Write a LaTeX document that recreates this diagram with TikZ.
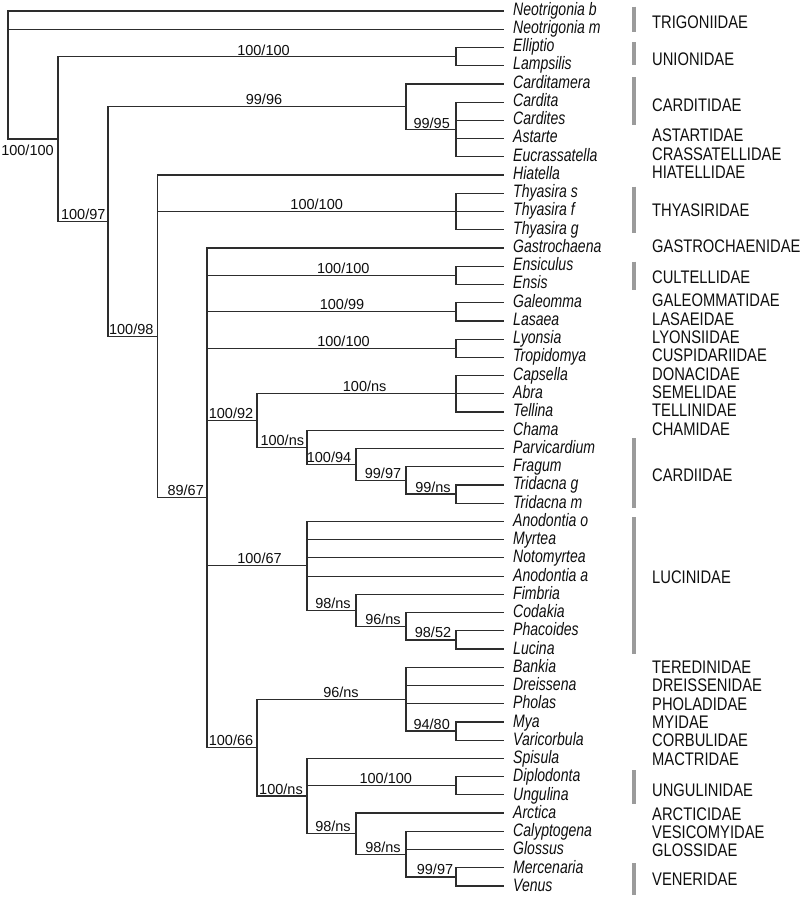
\documentclass[tikz,border=0pt]{standalone}
\usepackage{fontspec}
\setmainfont{Liberation Sans}
\newfontfamily\leaffont[FakeStretch=0.78]{Liberation Sans}
\newfontfamily\famfont[FakeStretch=0.81]{Liberation Sans}
\definecolor{bargray}{RGB}{155,155,155}
\definecolor{linegray}{RGB}{45,45,45}
\definecolor{txt}{RGB}{15,15,15}
\tikzset{
  br/.style={draw=linegray, line width=1.2pt, line cap=rect},
  leaf/.style={anchor=base west, inner sep=0pt, text=txt, font=\leaffont\itshape\fontsize{18}{18}\selectfont},
  fam/.style={anchor=base west, inner sep=0pt, text=txt, font=\famfont\fontsize{18.2}{18.2}\selectfont},
  lab/.style={anchor=base, inner sep=0pt, text=txt, font=\fontsize{14.5}{14.5}\selectfont},
  famBar/.style={draw=bargray, line width=4pt}
}
\begin{document}
\begin{tikzpicture}[x=1pt,y=-1pt]
\fill[white] (0,0) rectangle (804,898);
\useasboundingbox (0,0) rectangle (804,898);
% leaves
\foreach \t [count=\i from 0] in {Neotrigonia b, Neotrigonia m, Elliptio, Lampsilis, Carditamera, Cardita, Cardites, Astarte, Eucrassatella, Hiatella, Thyasira s, Thyasira f, Thyasira g, Gastrochaena, Ensiculus, Ensis, Galeomma, Lasaea, Lyonsia, Tropidomya, Capsella, Abra, Tellina, Chama, Parvicardium, Fragum, Tridacna g, Tridacna m, Anodontia o, Myrtea, Notomyrtea, Anodontia a, Fimbria, Codakia, Phacoides, Lucina, Bankia, Dreissena, Pholas, Mya, Varicorbula, Spisula, Diplodonta, Ungulina, Arctica, Calyptogena, Glossus, Mercenaria, Venus}{
  \pgfmathsetmacro\yy{11+\i*18.22917}
  \pgfmathsetmacro\yb{\yy+4+1.5*\yy/886}
  \coordinate (l\i) at (503,\yy);
  \node[leaf] (t\i) at (513,\yb) {\t};
}
% internal nodes
\coordinate (root) at (8,75.04);
\coordinate (nA) at (58,139.07);
\coordinate (nUnion) at (456,56.57);
\coordinate (nB) at (108,221.57);
\coordinate (nCardit) at (406,106.71);
\coordinate (nD) at (456,129.49);
\coordinate (nC) at (157.5,336.42);
\coordinate (nThy) at (456,211.52);
\coordinate (nE) at (207,497.78);
\coordinate (nCult) at (456,275.33);
\coordinate (nGal) at (456,311.79);
\coordinate (nLyon) at (456,348.24);
\coordinate (nF) at (257,420.59);
\coordinate (nCaps) at (456,393.81);
\coordinate (nH) at (307,447.36);
\coordinate (nI) at (356,464.45);
\coordinate (nJ) at (406,480.40);
\coordinate (nK) at (456,494.08);
\coordinate (nLuc) at (307,565.85);
\coordinate (nL) at (356,610.28);
\coordinate (nM) at (406,626.23);
\coordinate (nN) at (456,639.90);
\coordinate (nG) at (257,747.57);
\coordinate (nO) at (406,699.15);
\coordinate (nQ) at (456,731.05);
\coordinate (nP) at (307,795.99);
\coordinate (nUng) at (456,785.74);
\coordinate (nR) at (356,833.59);
\coordinate (nS) at (406,854.10);
\coordinate (nVen) at (456,876.89);
% branches
\foreach \p/\c in {root/l0, root/l1, root/nA,
  nA/nUnion, nA/nB, nUnion/l2, nUnion/l3,
  nB/nCardit, nB/nC, nCardit/l4, nCardit/nD,
  nD/l5, nD/l6, nD/l7, nD/l8,
  nC/l9, nC/nThy, nC/nE, nThy/l10, nThy/l11, nThy/l12,
  nE/l13, nE/nCult, nE/nGal, nE/nLyon, nE/nF, nE/nLuc, nE/nG,
  nCult/l14, nCult/l15, nGal/l16, nGal/l17, nLyon/l18, nLyon/l19,
  nF/nCaps, nF/nH, nCaps/l20, nCaps/l21, nCaps/l22,
  nH/l23, nH/nI, nI/l24, nI/nJ, nJ/l25, nJ/nK, nK/l26, nK/l27,
  nLuc/l28, nLuc/l29, nLuc/l30, nLuc/l31, nLuc/nL,
  nL/l32, nL/nM, nM/l33, nM/nN, nN/l34, nN/l35,
  nG/nO, nG/nP, nO/l36, nO/l37, nO/l38, nO/nQ, nQ/l39, nQ/l40,
  nP/l41, nP/nUng, nP/nR, nUng/l42, nUng/l43,
  nR/l44, nR/nS, nS/l45, nS/l46, nS/nVen, nVen/l47, nVen/l48}
  \draw[br] (\p) |- (\c);
% support labels
\node[lab] (bA) at (27.5,155) {100/100};
\node[lab] (bUnion) at (263.5,55) {100/100};
\node[lab] (bCardit) at (264,104.7) {99/96};
\node[lab] (bB) at (83.3,219.6) {100/97};
\node[lab] (bD) at (431.7,128) {99/95};
\node[lab] (bC) at (131.3,334.9) {100/98};
\node[lab] (bThy) at (316.7,209.5) {100/100};
\node[lab] (bE) at (185.7,495.8) {89/67};
\node[lab] (bCult) at (343.3,273.3) {100/100};
\node[lab] (bGal) at (342,309.8) {100/99};
\node[lab] (bLyon) at (343.5,346.2) {100/100};
\node[lab] (bF) at (231,418.6) {100/92};
\node[lab] (bCaps) at (364.7,391.8) {100/ns};
\node[lab] (bH) at (282.3,445.4) {100/ns};
\node[lab] (bI) at (329,462.4) {100/94};
\node[lab] (bJ) at (383,478.4) {99/97};
\node[lab] (bK) at (433,492.1) {99/ns};
\node[lab] (bLuc) at (259.5,563.8) {100/67};
\node[lab] (bL) at (333,608.3) {98/ns};
\node[lab] (bM) at (383,624.2) {96/ns};
\node[lab] (bN) at (433,637.9) {98/52};
\node[lab] (bG) at (231,745.6) {100/66};
\node[lab] (bO) at (341,697.2) {96/ns};
\node[lab] (bQ) at (431.7,729.1) {94/80};
\node[lab] (bP) at (281,794) {100/ns};
\node[lab] (bUng) at (385.8,783.7) {100/100};
\node[lab] (bR) at (333,831.6) {98/ns};
\node[lab] (bS) at (383,852.1) {98/ns};
\node[lab] (bVen) at (435,874.9) {99/97};
% family bars
\draw[famBar] (633.7,6.7) -- (633.7,32.3);
\draw[famBar] (633.7,42.3) -- (633.7,65);
\draw[famBar] (633.7,77.3) -- (633.7,125);
\draw[famBar] (633.7,186.7) -- (633.7,233.3);
\draw[famBar] (633.7,261.7) -- (633.7,290);
\draw[famBar] (633.7,438.3) -- (633.7,508.3);
\draw[famBar] (633.7,517.3) -- (633.7,654);
\draw[famBar] (633.7,770) -- (633.7,804);
\draw[famBar] (633.7,863.3) -- (633.7,895);
% family names
\node[fam] (f1) at (652,28.3) {TRIGONIIDAE};
\node[fam] (f2) at (652,65) {UNIONIDAE};
\node[fam] (f3) at (652,111.7) {CARDITIDAE};
\node[fam] (f4) at (652,141.7) {ASTARTIDAE};
\node[fam] (f5) at (652,160) {CRASSATELLIDAE};
\node[fam] (f6) at (652,178) {HIATELLIDAE};
\node[fam] (f7) at (652,216.7) {THYASIRIDAE};
\node[fam] (f8) at (652,252.5) {GASTROCHAENIDAE};
\node[fam] (f9) at (652,283.3) {CULTELLIDAE};
\node[fam] (f10) at (652,306.7) {GALEOMMATIDAE};
\node[fam] (f11) at (652,325) {LASAEIDAE};
\node[fam] (f12) at (652,343.3) {LYONSIIDAE};
\node[fam] (f13) at (652,361.7) {CUSPIDARIIDAE};
\node[fam] (f14) at (652,380) {DONACIDAE};
\node[fam] (f15) at (652,398.3) {SEMELIDAE};
\node[fam] (f16) at (652,416.7) {TELLINIDAE};
\node[fam] (f17) at (652,435) {CHAMIDAE};
\node[fam] (f18) at (652,481.7) {CARDIIDAE};
\node[fam] (f19) at (652,583.3) {LUCINIDAE};
\node[fam] (f20) at (652,673.3) {TEREDINIDAE};
\node[fam] (f21) at (652,691.7) {DREISSENIDAE};
\node[fam] (f22) at (652,710) {PHOLADIDAE};
\node[fam] (f23) at (652,728.3) {MYIDAE};
\node[fam] (f24) at (652,746.7) {CORBULIDAE};
\node[fam] (f25) at (652,765) {MACTRIDAE};
\node[fam] (f26) at (652,796.7) {UNGULINIDAE};
\node[fam] (f27) at (652,820) {ARCTICIDAE};
\node[fam] (f28) at (652,838.3) {VESICOMYIDAE};
\node[fam] (f29) at (652,856.7) {GLOSSIDAE};
\node[fam] (f30) at (652,885) {VENERIDAE};
\end{tikzpicture}
\end{document}
